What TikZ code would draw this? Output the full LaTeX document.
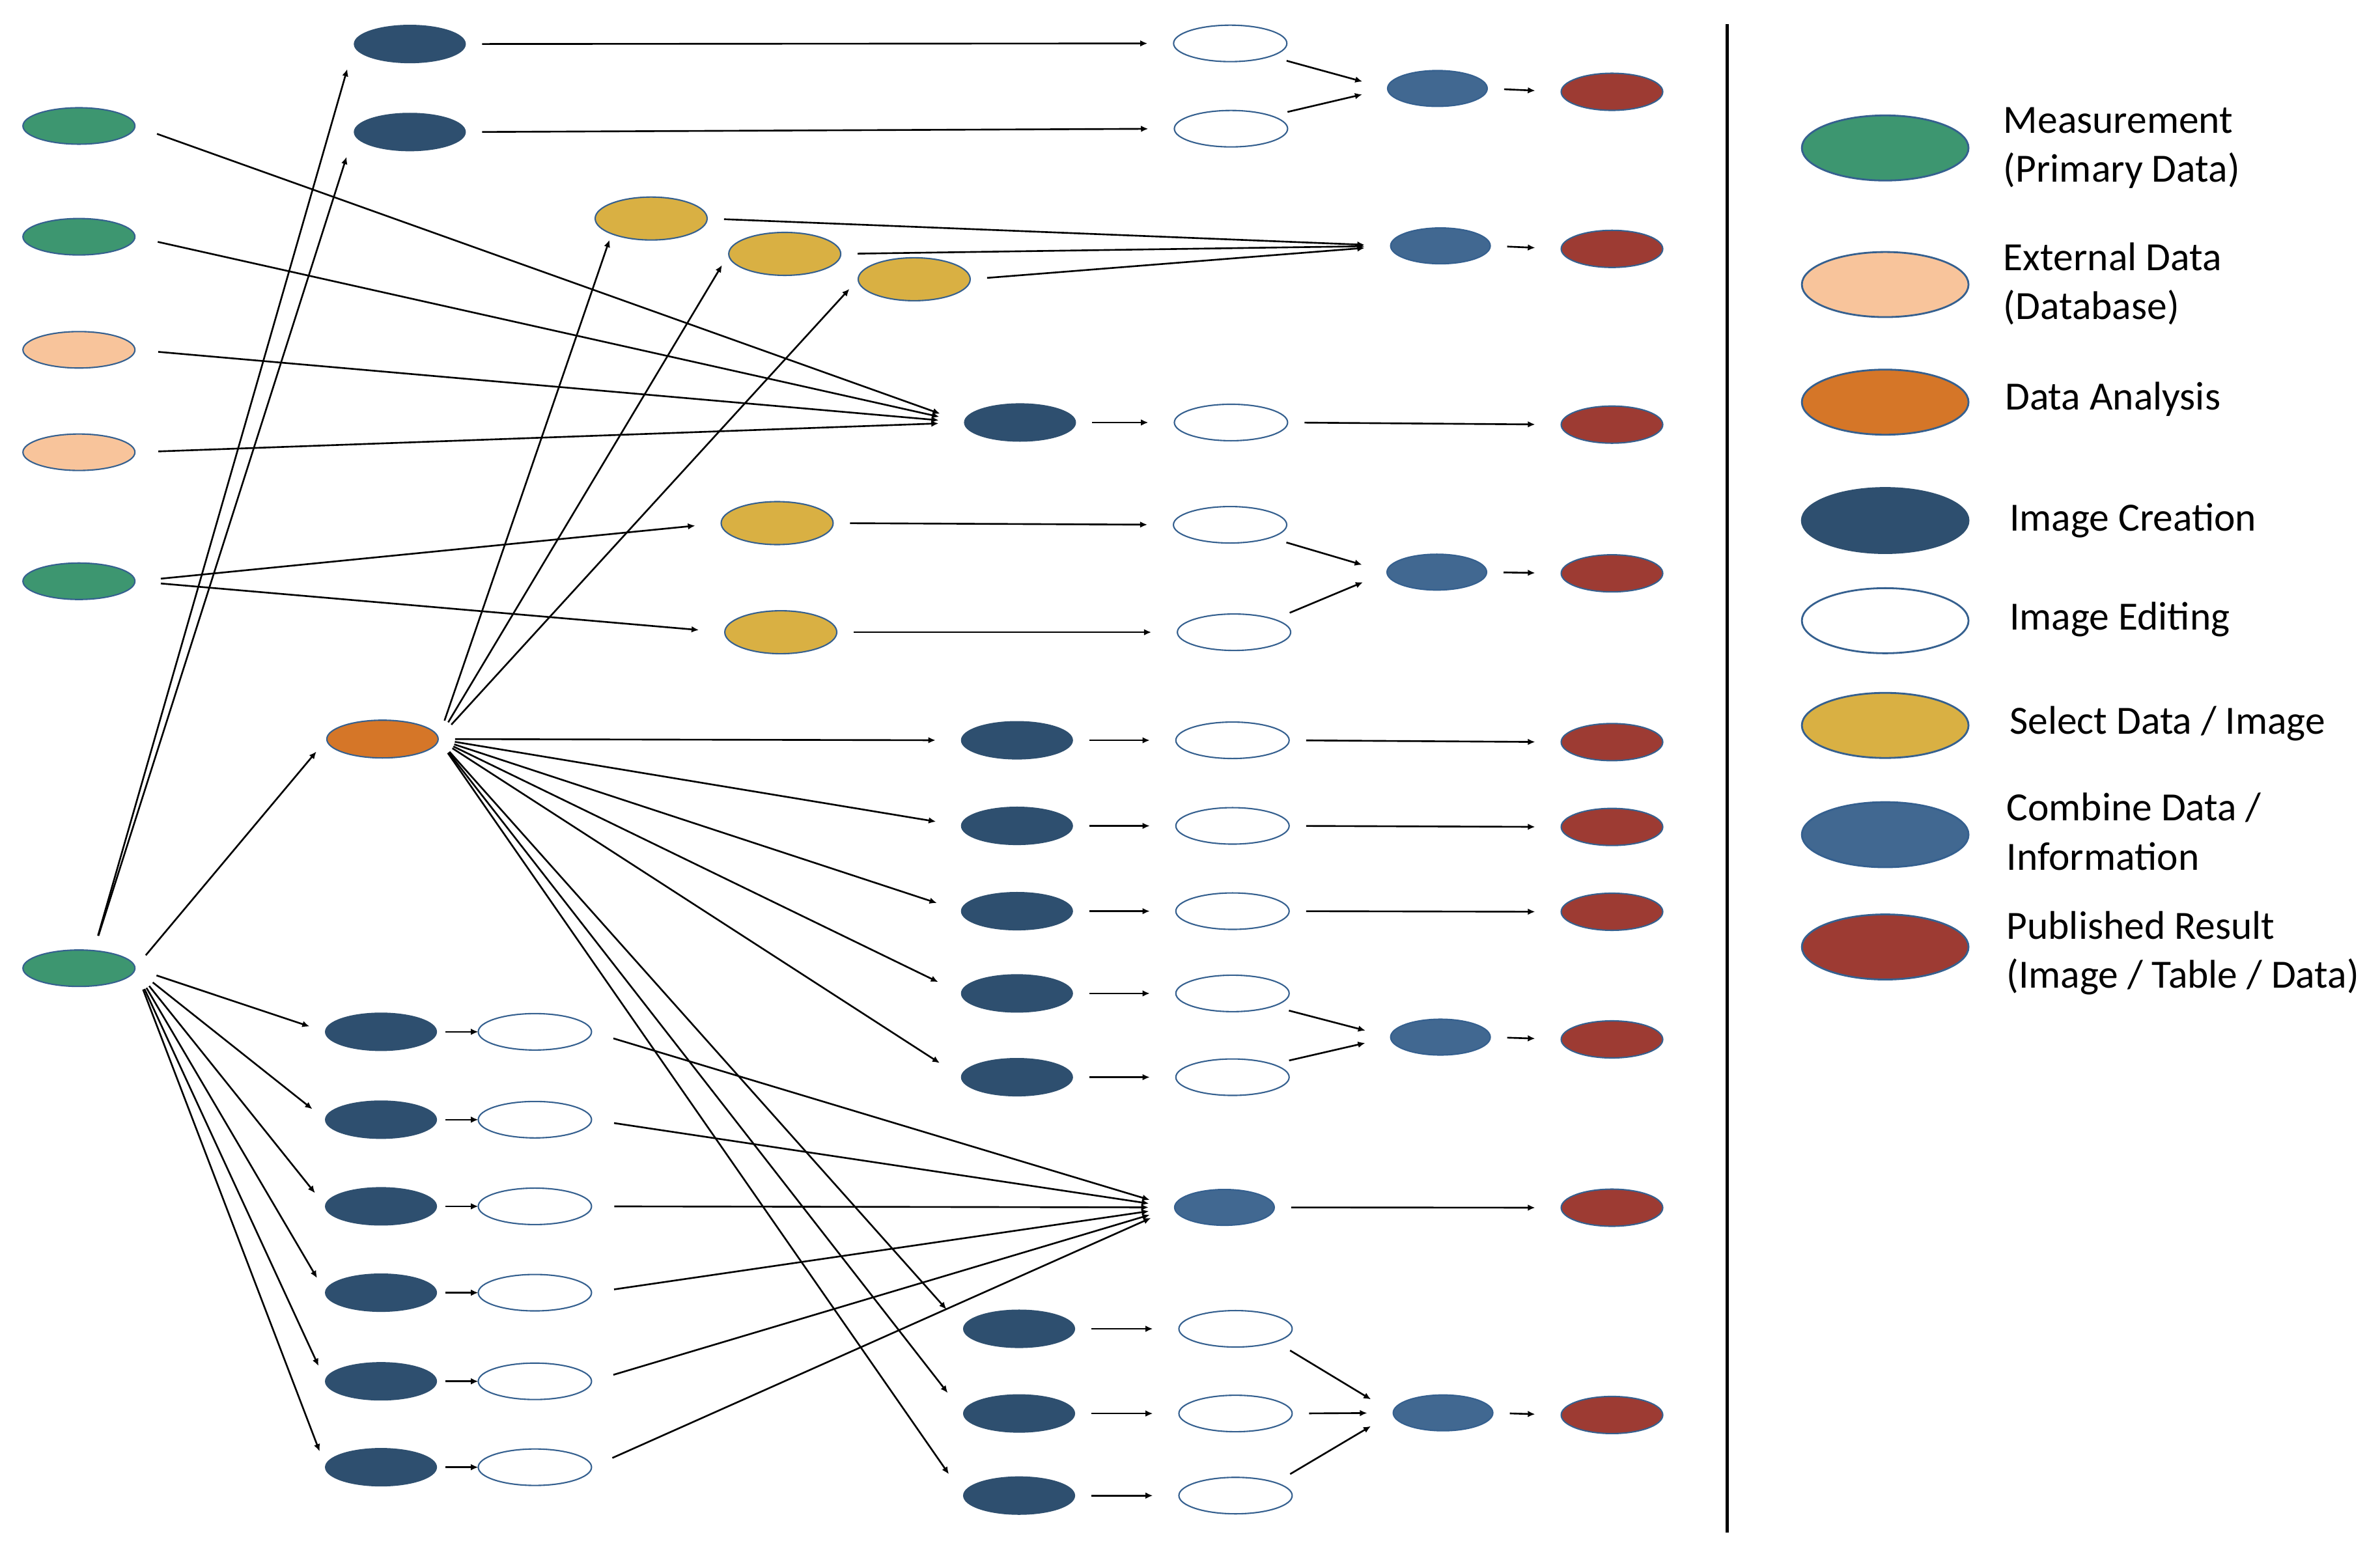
\documentclass[tikz,border=0pt]{standalone}
\usepackage{fontspec}
\setmainfont{Carlito}
\usetikzlibrary{shapes.geometric,arrows.meta}
\definecolor{cGreen}{HTML}{3D9670}
\definecolor{cPeach}{HTML}{F8C49B}
\definecolor{cOrange}{HTML}{D57628}
\definecolor{cDark}{HTML}{2E4F6F}
\definecolor{cYellow}{HTML}{D9B043}
\definecolor{cComb}{HTML}{416891}
\definecolor{cRed}{HTML}{9D3B33}
\definecolor{cBorder}{HTML}{35608F}
\begin{document}
\begin{tikzpicture}[x=0.02331cm,y=-0.02331cm,
  every node/.style={inner sep=0pt,outer sep=0pt},
  ell/.style={ellipse, draw=cBorder, line width=0.6pt, minimum width=1.72cm, minimum height=0.56cm},
  meas/.style={ell, fill=cGreen},
  ext/.style={ell, fill=cPeach},
  ana/.style={ell, fill=cOrange, minimum width=1.71cm, minimum height=0.58cm},
  crea/.style={ell, fill=cDark, draw=cDark, minimum width=1.70cm, minimum height=0.57cm},
  edit/.style={ell, fill=white, minimum width=1.74cm, minimum height=0.56cm},
  sel/.style={ell, fill=cYellow, minimum height=0.66cm},
  comb/.style={ell, fill=cComb, minimum width=1.53cm, minimum height=0.55cm},
  pub/.style={ell, fill=cRed, minimum width=1.56cm, minimum height=0.57cm},
  leg/.style={ellipse, draw=cBorder, line width=0.8pt, minimum width=2.56cm, minimum height=1.0cm},
  lt/.style={anchor=west, align=left, font=\fontsize{17.5}{21.5}\selectfont},
  arr/.style={-{Latex[length=3.2pt,width=2.8pt]}, line width=0.75pt, shorten <=0.26cm, shorten >=0.40cm}
]
\useasboundingbox[fill=white] (0,0) rectangle (1568,1025);

% ---------- left column ----------
\node[meas] (g1) at (52,83) {};
\node[meas] (g2) at (52,156) {};
\node[ext]  (p1) at (52,230.5) {};
\node[ext]  (p2) at (52,298) {};
\node[meas] (g3) at (52,383) {};
\node[meas] (g4) at (52,638) {};

% ---------- top rows ----------
\node[crea] (d1) at (270,29) {};
\node[crea] (d2) at (270,87) {};
\node[edit] (w1) at (810.5,28.6) {};
\node[edit] (w2) at (811,84.8) {};
\node[comb] (c1) at (947,58.3) {};
\node[pub]  (r1) at (1062,60.5) {};

% ---------- select data (top) ----------
\node[sel] (y1) at (429,144) {};
\node[sel] (y2) at (517,167.3) {};
\node[sel] (y3) at (602.3,184) {};
\node[comb] (c2) at (949,162) {};
\node[pub]  (r2) at (1062,164) {};

% ---------- image creation from measurements ----------
\node[crea] (ic)  at (672,278.4) {};
\node[edit] (wic) at (811,278.4) {};
\node[pub]  (ric) at (1062,279.8) {};

% ---------- select data (middle) ----------
\node[sel]  (y4) at (512,344.7) {};
\node[sel]  (y5) at (514.4,416.6) {};
\node[edit] (w4) at (810.4,345.8) {};
\node[edit] (w5) at (813,416.6) {};
\node[comb] (c3) at (946.6,377) {};
\node[pub]  (r3) at (1062,377.8) {};

% ---------- data analysis ----------
\node[ana] (da) at (252,487) {};
\foreach \i/\y in {1/487.8,2/544.2,3/600.4,4/654.6,5/709.8}{
  \node[crea] (m\i) at (670,\y) {};
  \node[edit] (e\i) at (812,\y) {};
}
\node[pub] (q1) at (1062,489) {};
\node[pub] (q2) at (1062,544.9) {};
\node[pub] (q3) at (1062,600.8) {};
\node[comb] (c4) at (949,683.4) {};
\node[pub]  (q4) at (1062,684.9) {};

\foreach \i/\y in {1/875.6,2/931.4,3/985.5}{
  \node[crea] (n\i) at (671.4,\y) {};
  \node[edit] (f\i) at (814,\y) {};
}
\node[comb] (c5) at (950.7,931) {};
\node[pub]  (q5) at (1062,932.4) {};

% ---------- bottom-left rows ----------
\foreach \i/\y in {1/679.9,2/737.8,3/794.9,4/851.8,5/910.2,6/966.8}{
  \node[crea] (bd\i) at (251,\y) {};
  \node[edit] (bw\i) at (352.4,\y) {};
}
\node[comb] (c6) at (806.7,795.6) {};
\node[pub]  (q6) at (1062,795.8) {};

% ---------- connectors ----------
\draw[arr] (d1.east) -- (w1.west);
\draw[arr] (d2.east) -- (w2.west);
\draw[arr] (w1.south east) -- (c1.west);
\draw[arr] (w2.north east) -- (c1.west);
\draw[arr] (c1.east) -- (r1.west);

\draw[arr] (y1.east) -- (c2.west);
\draw[arr] (y2.east) -- (c2.west);
\draw[arr] (y3.east) -- (c2.west);
\draw[arr] (c2.east) -- (r2.west);

\foreach \s in {g1,g2,p1,p2}{\draw[arr, shorten <=0.36cm] (\s.east) -- (ic.west);}
\draw[arr] (ic.east) -- (wic.west);
\draw[arr] (wic.east) -- (ric.west);

\draw[arr, shorten <=0.4cm] (g3.east) -- (y4.west);
\draw[arr, shorten <=0.4cm] (g3.east) -- (y5.west);
\draw[arr] (y4.east) -- (w4.west);
\draw[arr] (y5.east) -- (w5.west);
\draw[arr] (w4.south east) -- (c3.west);
\draw[arr] (w5.north east) -- (c3.west);
\draw[arr] (c3.east) -- (r3.west);

\draw[arr, shorten <=0.24cm, shorten >=0.4cm] (g4.50) -- (d1.west);
\draw[arr, shorten <=0.24cm, shorten >=0.4cm] (g4.50) -- (d2.west);
\draw[arr, shorten >=0.25cm] (g4.east) -- (da.west);

\draw[arr, shorten <=0.3cm, shorten >=0.1cm] (da.east) -- (y1.south west);
\draw[arr, shorten <=0.3cm, shorten >=0.2cm] (da.east) -- (y2.west);
\draw[arr, shorten <=0.3cm, shorten >=0.2cm] (da.east) -- (y3.west);
\foreach \t in {m1,m2,m3,m4,m5,n1,n2,n3}{\draw[arr] (da.east) -- (\t.west);}

\foreach \i in {1,2,3,4,5}{\draw[arr] (m\i.east) -- (e\i.west);}
\draw[arr] (e1.east) -- (q1.west);
\draw[arr] (e2.east) -- (q2.west);
\draw[arr] (e3.east) -- (q3.west);
\draw[arr] (e4.south east) -- (c4.west);
\draw[arr] (e5.north east) -- (c4.west);
\draw[arr] (c4.east) -- (q4.west);

\foreach \i in {1,2,3}{\draw[arr] (n\i.east) -- (f\i.west);}
\draw[arr] (f1.south east) -- (c5.west);
\draw[arr] (f2.east) -- (c5.west);
\draw[arr] (f3.north east) -- (c5.west);
\draw[arr] (c5.east) -- (q5.west);

\foreach \i in {1,...,6}{
  \draw[arr, shorten <=0.35cm, shorten >=0.26cm] (g4.east) -- (bd\i.west);
  \draw[arr, shorten <=0.14cm, shorten >=0pt] (bd\i.east) -- (bw\i.west);
  \draw[arr, shorten <=0.35cm] (bw\i.east) -- (c6.west);
}
\draw[arr] (c6.east) -- (q6.west);

% ---------- divider ----------
\draw[line width=1.4pt] (1138,16) -- (1138,1010);

% ---------- legend ----------
\node[leg, fill=cGreen]  (l1) at (1242,97.5) {};
\node[leg, fill=cPeach]  (l2) at (1242,187.5) {};
\node[leg, fill=cOrange] (l3) at (1242,265) {};
\node[leg, fill=cDark, draw=cDark] (l4) at (1242,343) {};
\node[leg, fill=white]   (l5) at (1242,409) {};
\node[leg, fill=cYellow] (l6) at (1242,478) {};
\node[leg, fill=cComb]   (l7) at (1242,550) {};
\node[leg, fill=cRed]    (l8) at (1242,624) {};

\node[lt] (t1) at (1320,97.5) {Measurement\\(Primary Data)};
\node[lt] (t2) at (1320,187) {External Data\\(Database)};
\node[lt] (t3) at (1321,263) {Data Analysis};
\node[lt] (t4) at (1324,343) {Image Creation};
\node[lt] (t5) at (1324,408) {Image Editing};
\node[lt] (t6) at (1324,477) {Select Data / Image};
\node[lt] (t7) at (1322,548) {Combine Data /\\Information};
\node[lt] (t8) at (1322,628) {Published Result\\(Image / Table / Data)};
\end{tikzpicture}
\end{document}
